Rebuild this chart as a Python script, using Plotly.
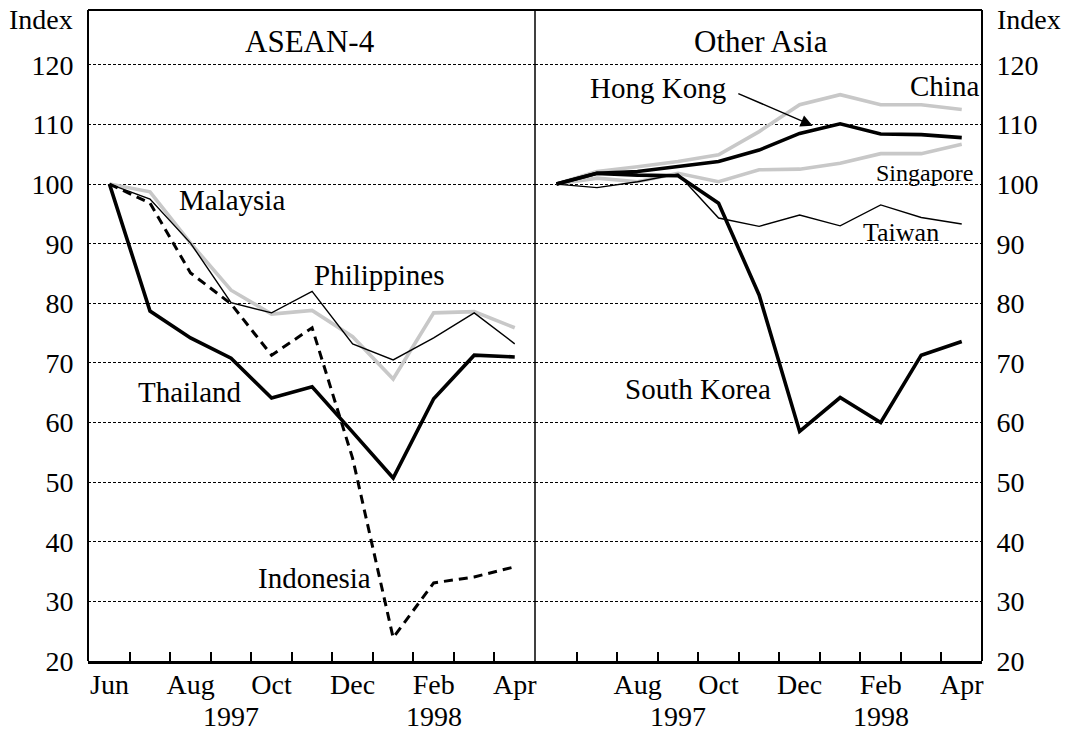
import plotly.graph_objects as go

# Month positions: Jun 1997 .. Apr 1998
months = ["Jun", "Jul", "Aug", "Sep", "Oct", "Nov", "Dec", "Jan", "Feb", "Mar", "Apr"]
month_idx = list(range(len(months)))
label_idx = [0, 2, 4, 6, 8, 10]
label_txt_left = ["Jun", "Aug", "Oct", "Dec", "Feb", "Apr"]
label_idx_right = [2, 4, 6, 8, 10]
label_txt_right = ["Aug", "Oct", "Dec", "Feb", "Apr"]
year_idx = [3, 8]
year_txt = ["1997", "1998"]
y_ticks = [20, 30, 40, 50, 60, 70, 80, 90, 100, 110, 120]

# ASEAN-4
thailand = [100, 78.7, 74.2, 70.8, 64.1, 66.0, 58.4, 50.7, 64.0, 71.3, 71.0]
malaysia = [100, 98.7, 90.1, 82.2, 78.2, 78.8, 74.4, 67.3, 78.4, 78.6, 75.9]
philippines = [100, 97.5, 90.1, 80.1, 78.4, 82.0, 73.2, 70.5, 74.2, 78.4, 73.2]
indonesia = [100, 96.8, 85.1, 79.9, 71.3, 75.9, 54.0, 23.9, 33.1, 34.1, 35.8]

# Other Asia
china = [100, 102.1, 102.9, 103.8, 104.9, 108.8, 113.3, 115.0, 113.3, 113.3, 112.5]
hong_kong = [100, 101.8, 102.1, 102.9, 103.8, 105.7, 108.5, 110.1, 108.4, 108.3, 107.8]
singapore = [100, 101.0, 100.4, 101.8, 100.4, 102.4, 102.5, 103.5, 105.1, 105.1, 106.7]
taiwan = [100, 99.4, 100.4, 101.7, 94.3, 92.9, 94.8, 93.0, 96.5, 94.4, 93.3]
south_korea = [100, 101.8, 101.5, 101.4, 96.8, 81.4, 58.5, 64.2, 60.0, 71.3, 73.6]

FONT = "Liberation Serif, Times New Roman, serif"
GRAY = "#c8c8c8"
THICK = 3.6
THIN = 1.4
TICK_SIZE = 28
LABEL_SIZE = 29

fig = go.Figure()


def add_line(x_axis, y, color, width, dash="solid"):
    fig.add_trace(go.Scatter(
        x=month_idx, y=y, xaxis=x_axis, yaxis="y", mode="lines",
        line=dict(color=color, width=width, dash=dash),
        showlegend=False, hoverinfo="skip",
    ))


# left panel
add_line("x", malaysia, GRAY, THICK)
add_line("x", philippines, "black", THIN)
add_line("x", indonesia, "black", 3.0, dash="9px,6px")
add_line("x", thailand, "black", THICK)

# right panel
add_line("x2", china, GRAY, THICK)
add_line("x2", singapore, GRAY, THICK)
add_line("x2", taiwan, "black", THIN)
add_line("x2", hong_kong, "black", THICK)
add_line("x2", south_korea, "black", THICK)

x_range = [-0.53, 10.5]
y_range = [20, 129.2]

xaxis_common = dict(
    range=x_range, showgrid=False, zeroline=False,
    showline=True, linecolor="black", linewidth=3,
    ticks="", ticklabelstandoff=-4,
    tickfont=dict(family=FONT, size=TICK_SIZE, color="black"),
    minor=dict(tickvals=[i + 0.5 for i in range(10)], ticks="inside",
               ticklen=9, tickwidth=1.5, tickcolor="black"),
    anchor="y",
)

yfont = dict(family=FONT, size=TICK_SIZE, color="black")

fig.update_layout(
    width=1069, height=735,
    margin=dict(l=88, r=87, t=10, b=74),
    paper_bgcolor="white", plot_bgcolor="white",
    font=dict(family=FONT, size=LABEL_SIZE, color="black"),
    xaxis=dict(domain=[0, 0.5], tickmode="array", tickvals=label_idx,
               ticktext=label_txt_left, **xaxis_common),
    xaxis2=dict(domain=[0.5, 1.0], tickmode="array", tickvals=label_idx_right,
                ticktext=label_txt_right, **xaxis_common),
    yaxis=dict(range=y_range, tickmode="array", tickvals=y_ticks,
               showgrid=True, gridcolor="black", gridwidth=1, griddash="3px,2px",
               zeroline=False, showline=False,
               ticks="outside", ticklen=8, tickcolor="rgba(0,0,0,0)",
               tickfont=yfont),
    yaxis2=dict(range=y_range, tickmode="array", tickvals=y_ticks,
                overlaying="y", side="right", anchor="x2",
                showgrid=False, zeroline=False, showline=False,
                ticks="outside", ticklen=8, tickcolor="rgba(0,0,0,0)",
                tickfont=yfont),
)

# a hidden trace so the right-hand value axis is drawn
fig.add_trace(go.Scatter(x=[0], y=[100], xaxis="x2", yaxis="y2", mode="markers",
                         marker=dict(opacity=0), showlegend=False, hoverinfo="skip"))

# frame: top, left, right and the panel divider
shapes = [
    dict(type="line", xref="paper", yref="paper", x0=0, x1=1, y0=1, y1=1,
         line=dict(color="black", width=2)),
    dict(type="line", xref="paper", yref="paper", x0=0, x1=0, y0=0, y1=1,
         line=dict(color="black", width=2)),
    dict(type="line", xref="paper", yref="paper", x0=1, x1=1, y0=0, y1=1,
         line=dict(color="black", width=2)),
    dict(type="line", xref="paper", yref="paper", x0=0.5, x1=0.5, y0=0, y1=1,
         line=dict(color="black", width=1.5)),
]
fig.update_layout(shapes=shapes)

annotations = []


def label(text, xref, x, y, size=LABEL_SIZE, **kw):
    annotations.append(dict(text=text, xref=xref, yref="y", x=x, y=y,
                            showarrow=False, font=dict(family=FONT, size=size, color="black"),
                            **kw))


# panel titles
label("ASEAN-4", "x", 4.96, 124.0, size=31)
label("Other Asia", "x2", 5.05, 124.0, size=31)

# series labels
label("Malaysia", "x", 3.03, 97.4)
label("Philippines", "x", 6.67, 84.8)
label("Thailand", "x", 1.98, 65.1)
label("Indonesia", "x", 5.06, 33.9)
label("China", "x2", 9.58, 116.5)
label("Hong Kong", "x2", 2.5, 116.1)
label("Singapore", "x2", 9.08, 101.9, size=24)
label("Taiwan", "x2", 8.5, 91.8, size=26)
label("South Korea", "x2", 3.5, 65.6)

# arrow pointing to Hong Kong
annotations.append(dict(text="", xref="x2", yref="y", x=6.32, y=109.8,
                        axref="x2", ayref="y", ax=4.45, ay=115.3,
                        showarrow=True, arrowhead=2, arrowsize=1.7, arrowwidth=1.4,
                        arrowcolor="black"))

# years under the month labels
for xr in ("x", "x2"):
    for xi, yt in zip(year_idx, year_txt):
        annotations.append(dict(text=yt, xref=xr, yref="paper", x=xi, y=-0.086,
                                yanchor="middle", showarrow=False,
                                font=dict(family=FONT, size=TICK_SIZE, color="black")))

# "Index" captions on both value axes
annotations.append(dict(text="Index", xref="paper", yref="paper", x=-0.0145, y=0.985,
                        xanchor="right", yanchor="middle", showarrow=False,
                        font=dict(family=FONT, size=TICK_SIZE, color="black")))
annotations.append(dict(text="Index", xref="paper", yref="paper", x=1.0145, y=0.985,
                        xanchor="left", yanchor="middle", showarrow=False,
                        font=dict(family=FONT, size=TICK_SIZE, color="black")))

fig.update_layout(annotations=annotations)

fig.write_html("out.html")
